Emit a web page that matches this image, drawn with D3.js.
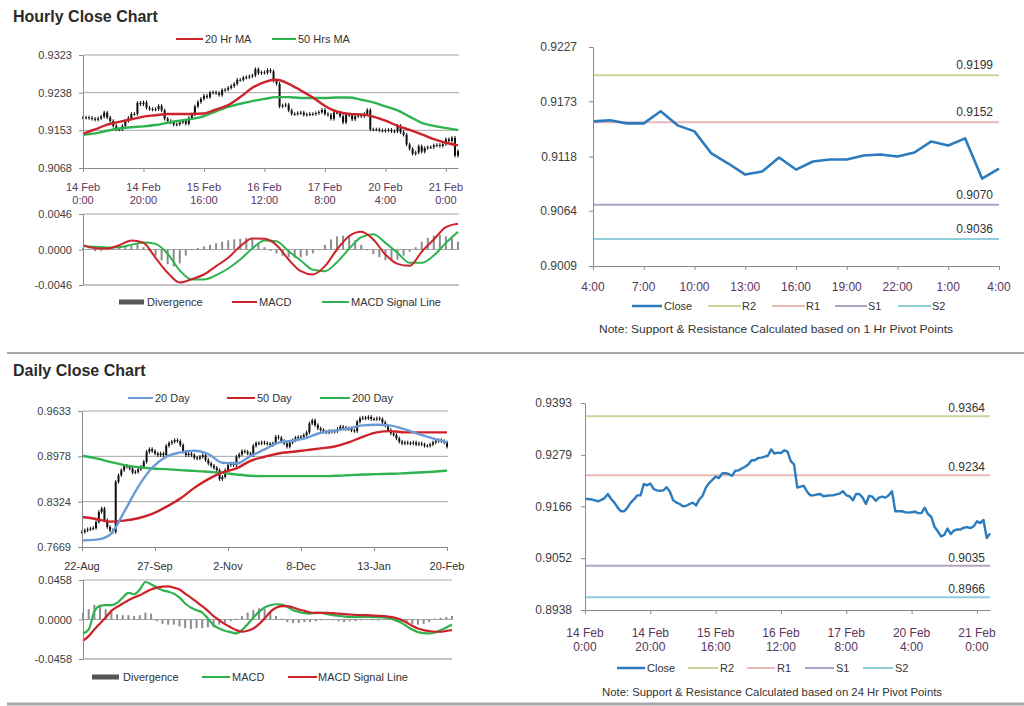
<!DOCTYPE html>
<html><head><meta charset="utf-8">
<script src="https://cdn.jsdelivr.net/npm/d3@7"></script>
<style>
body{margin:0;background:#fff;}
svg{display:block;}
</style></head><body>
<svg id="c" width="1024" height="706"></svg>
<script>
// ---------- DATA ----------
// Hourly close, 14 Feb 0:00 .. 21 Feb 4:00 (125 hourly bars, weekend removed)
const hourlyClose = [
0.9182,0.9182,0.9181,0.9179,0.9177,0.9180,0.9184,0.9193,0.9182,0.9174,
0.9163,0.9155,0.9155,0.9163,0.9174,0.9181,0.9190,0.9190,0.9215,0.9212,
0.9216,0.9204,0.9201,0.9200,0.9201,0.9208,0.9198,0.9179,0.9174,0.9171,
0.9166,0.9167,0.9171,0.9174,0.9168,0.9181,0.9189,0.9207,0.9217,0.9224,
0.9231,0.9228,0.9238,0.9239,0.9237,0.9233,0.9244,0.9245,0.9249,0.9253,
0.9258,0.9267,0.9267,0.9272,0.9273,0.9275,0.9277,0.9291,0.9282,0.9284,
0.9283,0.9289,0.9286,0.9265,0.9258,0.9207,0.9209,0.9211,0.9198,0.9190,
0.9190,0.9192,0.9193,0.9188,0.9189,0.9190,0.9190,0.9192,0.9194,0.9199,
0.9190,0.9188,0.9179,0.9193,0.9193,0.9185,0.9171,0.9189,0.9187,0.9178,
0.9185,0.9187,0.9185,0.9190,0.9199,0.9155,0.9155,0.9155,0.9153,0.9152,
0.9153,0.9154,0.9151,0.9151,0.9163,0.9149,0.9143,0.9121,0.9111,0.9100,
0.9103,0.9117,0.9105,0.9113,0.9115,0.9115,0.9119,0.9120,0.9118,0.9122,
0.9133,0.9129,0.9136,0.9096,0.9106];
const hourlyTickIdx = [0,20,40,60,80,100,120];
const hourlyTickLabels = [["14 Feb","0:00"],["14 Feb","20:00"],["15 Feb","16:00"],["16 Feb","12:00"],["17 Feb","8:00"],["20 Feb","4:00"],["21 Feb","0:00"]];
const hourlyPriceTicks = [0.9068,0.9153,0.9238,0.9323];
const hourlyPriceLabels = ["0.9068","0.9153","0.9238","0.9323"];
// moving averages sampled every 4 hours (index 0,4,...,124)
const ma20Hr = [0.9145,0.9155,0.9166,0.9172,0.9178,0.9184,0.9187,0.9190,0.9190,0.9190,0.9191,0.9200,0.9210,0.9228,0.9249,0.9262,0.9267,0.9258,0.9243,0.9227,0.9208,0.9195,0.9190,0.9189,0.9184,0.9175,0.9163,0.9154,0.9144,0.9133,0.9125,0.9119];
const ma50Hr = [0.9143,0.9146,0.9152,0.9157,0.9160,0.9162,0.9165,0.9170,0.9175,0.9179,0.9185,0.9196,0.9206,0.9213,0.9219,0.9224,0.9228,0.9228,0.9226,0.9226,0.9226,0.9227,0.9227,0.9222,0.9216,0.9207,0.9198,0.9184,0.9170,0.9163,0.9158,0.9154];
// hourly MACD sampled every 4 hours
const hourlyMacd = [0.00056,0.00017,0.00013,0.00056,0.00117,0.00086,-0.00108,-0.00302,-0.00428,-0.00384,-0.00324,-0.00216,-0.00108,0.00043,0.00143,0.00138,0.00056,-0.0013,-0.00281,-0.00324,-0.00216,0,0.00173,0.00229,0.0013,-0.00065,-0.00186,-0.00212,-0.0003,0.0013,0.00289,0.00333];
const hourlySignal = [0.00043,0.00035,0.00026,0.0003,0.0006,0.00091,0.00073,-0.00056,-0.00272,-0.00389,-0.00389,-0.00333,-0.00246,-0.0013,0.00013,0.00117,0.00108,-0.00022,-0.00143,-0.00263,-0.00281,-0.00164,0.00009,0.0016,0.00199,0.00086,-0.00043,-0.00173,-0.00173,-0.00078,0.00086,0.00229];
// hourly divergence sampled every 2 hours
const hourlyDivergence = [0.0002,0.0001,-0.0002,-0.0002,-0.0001,0.0001,0.0002,0.0004,0.0005,0.0007,
0.0003,-0.0002,-0.0008,-0.0014,-0.0019,-0.0022,-0.0018,-0.0008,-0.0001,0.0002,
0.0004,0.0006,0.0008,0.0010,0.0012,0.0013,0.0014,0.0015,0.0013,0.0008,
0.0003,-0.0002,-0.0005,-0.0008,-0.0010,-0.0011,-0.0010,-0.0008,-0.0005,-0.0001,
0.0006,0.0013,0.0017,0.0018,0.0016,0.0012,0.0006,-0.0001,-0.0006,-0.0010,
-0.0014,-0.0015,-0.0013,-0.0008,-0.0003,0.0003,0.0010,0.0015,0.0018,0.0019,
0.0017,0.0014,0.0010];
const hourlyMacdTicks = [-0.0046,0,0.0046];
const hourlyMacdLabels = ["-0.0046","0.0000","0.0046"];

// Last 24 hours (1 Hr pivots)
const last24Labels = ["4:00","7:00","10:00","13:00","16:00","19:00","22:00","1:00","4:00"];
const last24Ticks = [0.9009,0.9064,0.9118,0.9173,0.9227];
const last24TickLabels = ["0.9009","0.9064","0.9118","0.9173","0.9227"];
const pivotNames = ["R2","R1","S1","S2"];
const pivots1Hr = [0.9199,0.9152,0.9070,0.9036];
const pivots24Hr = [0.9364,0.9234,0.9035,0.8966];
const hourlyLineTicks = [0.8938,0.9052,0.9166,0.9279,0.9393];
const hourlyLineTickLabels = ["0.8938","0.9052","0.9166","0.9279","0.9393"];

// Daily close, 22-Aug .. 20-Feb (131 trading days)
const dailyClose = [
0.7886,0.7910,0.7925,0.7934,0.7944,0.8031,0.8176,0.8224,0.8055,0.7958,
0.7910,0.7886,0.8610,0.8706,0.8779,0.8842,0.8827,0.8803,0.8745,0.8755,
0.8793,0.8827,0.8899,0.9044,0.9083,0.9054,0.9020,0.8996,0.9020,0.8996,
0.9131,0.9170,0.9189,0.9213,0.9199,0.9141,0.9044,0.8996,0.9015,0.8996,
0.8957,0.8948,0.8972,0.8996,0.8924,0.8875,0.8842,0.8813,0.8779,0.8649,
0.8682,0.8779,0.8851,0.8875,0.8851,0.8972,0.9006,0.9054,0.9044,0.9020,
0.8996,0.9131,0.9170,0.9165,0.9179,0.9170,0.9160,0.9141,0.9165,0.9261,
0.9247,0.9199,0.9165,0.9117,0.9179,0.9208,0.9247,0.9257,0.9261,0.9286,
0.9324,0.9454,0.9498,0.9430,0.9382,0.9358,0.9334,0.9324,0.9343,0.9334,
0.9343,0.9372,0.9406,0.9392,0.9372,0.9382,0.9353,0.9343,0.9479,0.9527,
0.9537,0.9527,0.9546,0.9517,0.9517,0.9527,0.9517,0.9469,0.9421,0.9358,
0.9310,0.9286,0.9237,0.9189,0.9165,0.9179,0.9170,0.9165,0.9179,0.9150,
0.9165,0.9150,0.9131,0.9131,0.9150,0.9179,0.9199,0.9213,0.9199,0.9179,
0.9117];
const dailyTickIdx = [0,26,52,78,104,130];
const dailyTickLabels = ["22-Aug","27-Sep","2-Nov","8-Dec","13-Jan","20-Feb"];
const dailyPriceTicks = [0.7669,0.8324,0.8978,0.9633];
const dailyPriceLabels = ["0.7669","0.8324","0.8978","0.9633"];
// daily moving averages sampled every 5 days (index 0,5,...,130)
const ma20Day = [0.7765,0.7775,0.7847,0.8176,0.8538,0.8813,0.8972,0.9035,0.9059,0.9010,0.8885,0.8875,0.8982,0.9078,0.9175,0.9203,0.9247,0.9319,0.9348,0.9382,0.9426,0.9435,0.9421,0.9368,0.9300,0.9237,0.9179];
const ma50Day = [0.8103,0.8074,0.8036,0.8050,0.8084,0.8147,0.8248,0.8369,0.8523,0.8649,0.8745,0.8803,0.8914,0.8972,0.9020,0.9044,0.9068,0.9093,0.9121,0.9179,0.9261,0.9324,0.9343,0.9324,0.9324,0.9324,0.9324];
const ma200Day = [0.8986,0.8948,0.8899,0.8851,0.8822,0.8803,0.8793,0.8779,0.8769,0.8755,0.8740,0.8716,0.8697,0.8692,0.8692,0.8692,0.8692,0.8692,0.8697,0.8706,0.8716,0.8721,0.8726,0.8735,0.8745,0.8755,0.8774];
// daily MACD, signal and divergence sampled every 2 days
const dailyMacd = [-0.0162,-0.0116,0.0092,0.0158,0.0166,0.0166,0.0193,0.0254,0.0308,0.0293,
0.0347,0.0435,0.0408,0.0370,0.0339,0.0323,0.0300,0.0254,0.0185,0.0139,
0.0108,0.0081,0.0012,-0.0065,-0.0104,-0.0131,-0.0146,-0.0162,-0.0123,-0.0054,
0.0023,0.0089,0.0139,0.0166,0.0177,0.0173,0.0146,0.0108,0.0089,0.0073,
0.0069,0.0077,0.0077,0.0062,0.0050,0.0042,0.0035,0.0031,0.0031,0.0031,
0.0031,0.0027,0.0027,0.0023,0.0015,-0.0008,-0.0035,-0.0077,-0.0116,-0.0146,
-0.0158,-0.0162,-0.0150,-0.0123,-0.0092,-0.0058];
const dailySignal = [-0.0247,-0.0193,-0.0116,-0.0046,0.0023,0.0100,0.0146,0.0185,0.0223,0.0254,
0.0281,0.0316,0.0347,0.0370,0.0381,0.0385,0.0370,0.0347,0.0300,0.0254,
0.0204,0.0154,0.0100,0.0039,-0.0008,-0.0054,-0.0089,-0.0123,-0.0142,-0.0131,
-0.0104,-0.0054,0.0012,0.0089,0.0135,0.0154,0.0154,0.0139,0.0116,0.0100,
0.0081,0.0077,0.0077,0.0077,0.0073,0.0069,0.0062,0.0058,0.0054,0.0050,
0.0050,0.0046,0.0042,0.0039,0.0031,0.0019,-0.0004,-0.0035,-0.0073,-0.0104,
-0.0123,-0.0135,-0.0142,-0.0142,-0.0131,-0.0123];
const dailyDivergence = [0.008,0.012,0.017,0.016,0.012,0.009,0.006,0.005,0.005,0.004,
0.005,0.008,0.007,-0.002,-0.005,-0.006,-0.006,-0.008,-0.010,-0.011,
-0.010,-0.010,-0.009,-0.009,-0.006,-0.004,-0.002,0.001,0.004,0.008,
0.011,0.013,0.012,0.008,0.004,0.001,-0.003,-0.004,-0.004,-0.003,
-0.003,-0.002,-0.001,0.000,-0.001,-0.002,-0.003,-0.002,-0.002,-0.001,
0.000,-0.001,-0.001,0.000,0.000,0.000,-0.002,-0.004,-0.005,-0.006,
-0.005,-0.003,0.001,0.002,0.003,0.004];
const dailyMacdTicks = [-0.0458,0,0.0458];
const dailyMacdLabels = ["-0.0458","0.0000","0.0458"];

// ---------- DRAWING ----------
const FONT = "'Liberation Sans', Arial, Helvetica, sans-serif";
const AXIS = "#8a8a8a", GRID = "#a6a6a6", TXT = "#404040", XPURPLE = "#5a3560";
const C_RED = "#cc2229", C_GREEN = "#2eb34f", C_BLUE20 = "#6a9bd6", C_CLOSE = "#2b7bbd", C_DIV = "#8c8c8c";
const PIV_COL = ["#c4d79b", "#e6b8b7", "#b3a2c7", "#92cddc"];
const svg = d3.select("#c").attr("font-family", FONT);

function yAxis(x0, y, vals, labels, fs, pad) {
  const g = svg.append("g").attr("transform", `translate(${x0},0)`)
    .call(d3.axisLeft(y).tickValues(vals).tickFormat((d, i) => labels[i]).tickSize(4).tickSizeOuter(0).tickPadding(pad));
  g.attr("font-family", FONT).attr("font-size", fs);
  g.select(".domain").attr("stroke", AXIS);
  g.selectAll(".tick line").attr("stroke", AXIS);
  g.selectAll(".tick text").attr("fill", TXT);
}
function xAxis(y0, x, idxs, labels, fs, color, base1, gap, tickSize) {
  const g = svg.append("g").attr("transform", `translate(0,${y0})`)
    .call(d3.axisBottom(x).tickValues(idxs).tickFormat("").tickSize(tickSize).tickSizeOuter(0));
  g.select(".domain").attr("stroke", AXIS);
  g.selectAll(".tick line").attr("stroke", AXIS);
  const t = svg.append("g").attr("font-size", fs).attr("fill", color).attr("text-anchor", "middle");
  idxs.forEach((d, i) => {
    const lab = Array.isArray(labels[i]) ? labels[i] : [labels[i]];
    lab.forEach((s, k) => t.append("text").attr("x", x(d)).attr("y", y0 + base1 + k * gap).text(s));
  });
}
function grid(x1, x2, y, vals) {
  svg.append("g").selectAll("line").data(vals).join("line")
    .attr("x1", x1).attr("x2", x2).attr("y1", d => y(d)).attr("y2", d => y(d))
    .attr("stroke", GRID).attr("stroke-width", 1);
}
function candles(arr, x, y) {
  const g = svg.append("g");
  const op = (d, i) => i ? arr[i - 1] : d;
  g.selectAll("line").data(arr).join("line")
    .attr("x1", (d, i) => x(i)).attr("x2", (d, i) => x(i))
    .attr("y1", (d, i) => y(Math.max(d, op(d, i))) - 1.8)
    .attr("y2", (d, i) => y(Math.min(d, op(d, i))) + 1.8)
    .attr("stroke", "#111").attr("stroke-width", 1);
  g.selectAll("rect").data(arr).join("rect")
    .attr("x", (d, i) => x(i) - 1).attr("width", 2)
    .attr("y", (d, i) => y(Math.max(d, op(d, i))))
    .attr("height", (d, i) => Math.max(1, Math.abs(y(d) - y(op(d, i)))))
    .attr("fill", "#111");
}
function series(vals, step, x, y, color, w, curve) {
  svg.append("path").datum(vals)
    .attr("d", d3.line().x((d, i) => x(i * step)).y(d => y(d)).curve(curve || d3.curveMonotoneX))
    .attr("fill", "none").attr("stroke", color).attr("stroke-width", w).attr("stroke-linejoin", "round");
}
function bars(vals, step, x, y, color) {
  svg.append("g").selectAll("rect").data(vals).join("rect")
    .attr("x", (d, i) => x(i * step) - 1).attr("width", 2)
    .attr("y", d => Math.min(y(d), y(0))).attr("height", d => Math.max(0.5, Math.abs(y(d) - y(0))))
    .attr("fill", color);
}
function legend(items, y, fs) {
  const g = svg.append("g").attr("font-size", fs).attr("fill", "#333");
  items.forEach(it => {
    if (it.bar) g.append("rect").attr("x", it.x1).attr("y", y - 2.5).attr("width", it.x2 - it.x1).attr("height", 5).attr("fill", it.color);
    else g.append("line").attr("x1", it.x1).attr("x2", it.x2).attr("y1", y).attr("y2", y).attr("stroke", it.color).attr("stroke-width", it.w || 2);
    g.append("text").attr("x", it.tx).attr("y", y + 4).text(it.text);
  });
}
function title(txt, y) {
  svg.append("text").attr("x", 13).attr("y", y).attr("font-size", 16).attr("font-weight", "bold").attr("fill", "#2b2b2b").text(txt);
}
function pivotLines(vals, x1, x2, y, labX, labOff, fs) {
  const g = svg.append("g");
  vals.forEach((v, i) => {
    g.append("line").attr("x1", x1).attr("x2", x2).attr("y1", y(v)).attr("y2", y(v)).attr("stroke", PIV_COL[i]).attr("stroke-width", 2);
    g.append("text").attr("x", labX).attr("y", y(v) - labOff).attr("text-anchor", "end").attr("font-size", fs).attr("fill", "#333").text(v.toFixed(4));
  });
}

// ===== Panel A: hourly candles =====
title("Hourly Close Chart", 22);
const xA = d3.scaleLinear().domain([0, 124]).range([83, 458]);
const yA = d3.scaleLinear().domain([0.9068, 0.9323]).range([168, 55]);
grid(83, 459, yA, hourlyPriceTicks.slice(1));
candles(hourlyClose, xA, yA);
series(ma50Hr, 4, xA, yA, C_GREEN, 2.4);
series(ma20Hr, 4, xA, yA, C_RED, 2.4);
yAxis(83, yA, hourlyPriceTicks, hourlyPriceLabels, 11, 7);
xAxis(168, xA, hourlyTickIdx, hourlyTickLabels, 11, XPURPLE, 23, 12.5, 4);
legend([{x1: 176, x2: 203, tx: 205, text: "20 Hr MA", color: C_RED},
        {x1: 272, x2: 296, tx: 298, text: "50 Hrs MA", color: C_GREEN}], 39, 11);

// ===== Panel B: hourly MACD =====
const yB = d3.scaleLinear().domain([-0.0046, 0.0046]).range([285, 214]);
grid(83, 459, yB, [0, 0.0046]);
svg.append("line").attr("x1", 83).attr("x2", 459).attr("y1", 285).attr("y2", 285).attr("stroke", AXIS);
bars(hourlyDivergence, 2, xA, yB, C_DIV);
series(hourlySignal, 4, xA, yB, C_GREEN, 2);
series(hourlyMacd, 4, xA, yB, C_RED, 2);
yAxis(83, yB, hourlyMacdTicks, hourlyMacdLabels, 11, 7);
legend([{x1: 119, x2: 144, tx: 147, text: "Divergence", color: "#555", bar: true},
        {x1: 232, x2: 257, tx: 259, text: "MACD", color: C_RED},
        {x1: 322, x2: 349, tx: 351, text: "MACD Signal Line", color: C_GREEN}], 302, 11);

// ===== Panel C: last 24 hours =====
const last24 = hourlyClose.slice(hourlyClose.length - 25);
const xC = d3.scaleLinear().domain([0, 24]).range([593, 999]);
const yC = d3.scaleLinear().domain([0.9009, 0.9227]).range([266, 47]);
pivotLines(pivots1Hr, 593, 999, yC, 993, 6, 12);
series(last24, 1, xC, yC, C_CLOSE, 2.6, d3.curveLinear);
yAxis(593, yC, last24Ticks, last24TickLabels, 12, 12);
xAxis(266, xC, d3.range(0, 25, 3), last24Labels, 12, XPURPLE, 25, 0, 4);
legend([{x1: 632, x2: 662, tx: 664, text: "Close", color: C_CLOSE, w: 2.5},
        {x1: 708, x2: 741, tx: 742, text: pivotNames[0], color: PIV_COL[0]},
        {x1: 772, x2: 805, tx: 806, text: pivotNames[1], color: PIV_COL[1]},
        {x1: 835, x2: 867, tx: 868, text: pivotNames[2], color: PIV_COL[2]},
        {x1: 898, x2: 931, tx: 932, text: pivotNames[3], color: PIV_COL[3]}], 306, 11);
svg.append("text").attr("x", 599).attr("y", 333).attr("font-size", 10.5).attr("fill", "#333")
  .attr("textLength", 354).attr("lengthAdjust", "spacingAndGlyphs")
  .text("Note: Support & Resistance Calculated based on 1 Hr Pivot Points");

// separators
svg.append("line").attr("x1", 7).attr("x2", 1024).attr("y1", 353).attr("y2", 353).attr("stroke", "#a8a8a8").attr("stroke-width", 2);
svg.append("line").attr("x1", 7).attr("x2", 1024).attr("y1", 704).attr("y2", 704).attr("stroke", "#a8a8a8").attr("stroke-width", 3);

// ===== Panel D: daily candles =====
title("Daily Close Chart", 376);
const xD = d3.scaleLinear().domain([0, 130]).range([82, 447]);
const yD = d3.scaleLinear().domain([0.7669, 0.9633]).range([547, 411]);
grid(82, 448, yD, dailyPriceTicks.slice(1));
candles(dailyClose, xD, yD);
series(ma200Day, 5, xD, yD, C_GREEN, 2.4);
series(ma50Day, 5, xD, yD, C_RED, 2.4);
series(ma20Day, 5, xD, yD, C_BLUE20, 2.4);
yAxis(82, yD, dailyPriceTicks, dailyPriceLabels, 11, 7);
xAxis(547, xD, dailyTickIdx, dailyTickLabels, 11, "#333", 23, 0, 4);
legend([{x1: 128, x2: 153, tx: 155, text: "20 Day", color: C_BLUE20},
        {x1: 227, x2: 255, tx: 257, text: "50 Day", color: C_RED},
        {x1: 320, x2: 350, tx: 352, text: "200 Day", color: C_GREEN}], 398, 11);

// ===== Panel E: daily MACD =====
const xE = d3.scaleLinear().domain([0, 130]).range([83, 452]);
const yE = d3.scaleLinear().domain([-0.0458, 0.0458]).range([659, 580]);
grid(83, 452, yE, [0, 0.0458]);
svg.append("line").attr("x1", 83).attr("x2", 452).attr("y1", 659).attr("y2", 659).attr("stroke", AXIS);
bars(dailyDivergence, 2, xE, yE, C_DIV);
series(dailyMacd, 2, xE, yE, C_GREEN, 2.2);
series(dailySignal, 2, xE, yE, C_RED, 2.2);
yAxis(83, yE, dailyMacdTicks, dailyMacdLabels, 11, 7);
legend([{x1: 92, x2: 119, tx: 123, text: "Divergence", color: "#555", bar: true},
        {x1: 202, x2: 230, tx: 232, text: "MACD", color: C_GREEN},
        {x1: 288, x2: 317, tx: 318, text: "MACD Signal Line", color: C_RED}], 677, 11);

// ===== Panel F: hourly close line, 24 Hr pivots =====
const xF = d3.scaleLinear().domain([0, 124]).range([585, 990]);
const yF = d3.scaleLinear().domain([0.8938, 0.9393]).range([610, 403]);
pivotLines(pivots24Hr, 585, 990, yF, 985, 4, 12);
series(hourlyClose, 1, xF, yF, C_CLOSE, 2.4, d3.curveLinear);
yAxis(585, yF, hourlyLineTicks, hourlyLineTickLabels, 12, 9);
xAxis(610, xF, hourlyTickIdx, hourlyTickLabels, 12, XPURPLE, 27, 14, 4);
legend([{x1: 617, x2: 645, tx: 647, text: "Close", color: C_CLOSE, w: 2.5},
        {x1: 688, x2: 718, tx: 720, text: pivotNames[0], color: PIV_COL[0]},
        {x1: 747, x2: 775, tx: 777, text: pivotNames[1], color: PIV_COL[1]},
        {x1: 805, x2: 834, tx: 836, text: pivotNames[2], color: PIV_COL[2]},
        {x1: 863, x2: 893, tx: 895, text: pivotNames[3], color: PIV_COL[3]}], 668, 11);
svg.append("text").attr("x", 602).attr("y", 696).attr("font-size", 10.5).attr("fill", "#333")
  .attr("textLength", 340).attr("lengthAdjust", "spacingAndGlyphs")
  .text("Note: Support & Resistance Calculated based on 24 Hr Pivot Points");
</script>
</body></html>
